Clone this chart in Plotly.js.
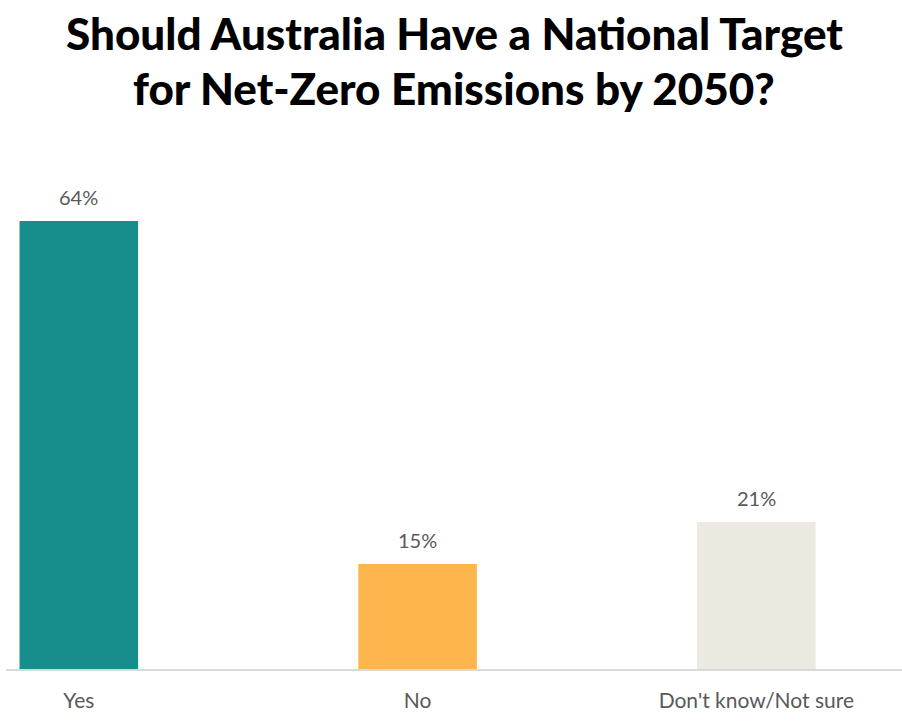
<!DOCTYPE html>
<html>
<head>
<meta charset="utf-8">
<script src="https://cdn.plot.ly/plotly-3.0.1.min.js"></script>
<style>html,body{margin:0;padding:0;background:#fff;}#chart{width:902px;height:726px;}</style>
</head>
<body>
<div id="chart"></div>
<script>
const categories = ["Yes", "No", "Don't know/Not sure"];
const values = [64, 15, 21];
const labels = ["64%", "15%", "21%"];
const colors = ["#178E8C", "#FFB54D", "#ECEAE0"];
const titleLines = ["Should Australia Have a National Target", "for Net-Zero Emissions by 2050?"];

const trace = {
  type: "bar",
  x: categories,
  y: values,
  marker: {color: colors},
  width: 0.35,
  hoverinfo: "none"
};

const labelFont = {family: "Lato, 'Open Sans', sans-serif", size: 20, color: "#595959"};
const annotations = categories.map((c, i) => ({
  x: c, y: values[i], xref: "x", yref: "y",
  text: labels[i], showarrow: false,
  yanchor: "bottom", yshift: 10,
  font: labelFont
}));
const titleFont = {family: "Lato, sans-serif", size: 44, color: "#000000", weight: 900};
annotations.push({x: 0.5, y: 1.2254, xref: "paper", yref: "paper", xanchor: "center", yanchor: "middle",
  text: titleLines[0], showarrow: false, font: titleFont});
annotations.push({x: 0.5, y: 1.1195, xref: "paper", yref: "paper", xanchor: "center", yanchor: "middle",
  text: titleLines[1], showarrow: false, font: titleFont});

const layout = {
  width: 902,
  height: 726,
  margin: {l: 6, r: 0, t: 150, b: 57},
  paper_bgcolor: "#ffffff",
  plot_bgcolor: "#ffffff",
  showlegend: false,
  annotations: annotations,
  xaxis: {
    type: "category",
    range: [-0.215, 2.43],
    showgrid: false,
    zeroline: false,
    showline: true,
    linecolor: "#D9D9D9",
    linewidth: 2,
    ticks: "",
    ticklabelstandoff: 12,
    tickfont: {family: "Lato, 'Open Sans', sans-serif", size: 21, color: "#595959"}
  },
  yaxis: {
    range: [0, 74.14],
    showgrid: false,
    zeroline: false,
    showline: false,
    showticklabels: false,
    ticks: ""
  }
};

Plotly.newPlot("chart", [trace], layout, {displayModeBar: false, staticPlot: true});
</script>
</body>
</html>
